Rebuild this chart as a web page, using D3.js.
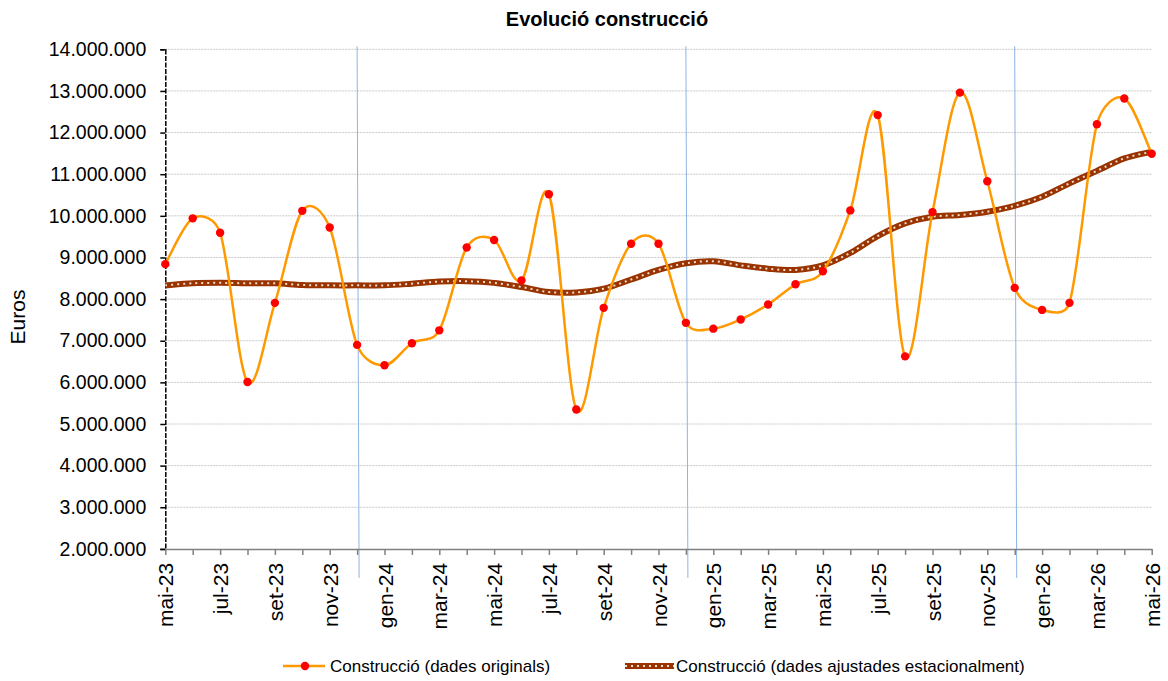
<!DOCTYPE html>
<html><head><meta charset="utf-8">
<script src="https://cdn.jsdelivr.net/npm/d3@7"></script>
<style>
html,body{margin:0;padding:0;background:#fff;}
text{font-family:"Liberation Sans",Arial,sans-serif;fill:#000;}
</style></head>
<body><svg id="chart" width="1168" height="681"></svg>
<script>
const months = ["mai-23","jun-23","jul-23","ago-23","set-23","oct-23","nov-23","des-23",
"gen-24","feb-24","mar-24","abr-24","mai-24","jun-24","jul-24","ago-24","set-24","oct-24","nov-24","des-24",
"gen-25","feb-25","mar-25","abr-25","mai-25","jun-25","jul-25","ago-25","set-25","oct-25","nov-25","des-25",
"gen-26","feb-26","mar-26","abr-26","mai-26"];
const original = [8840000,9940000,9595000,6010000,7910000,10120000,9720000,6900000,
6410000,6940000,7250000,9240000,9420000,8450000,10520000,5350000,7790000,9330000,9330000,7430000,
7290000,7510000,7870000,8355000,8670000,10130000,12420000,6625000,10090000,12960000,10830000,8270000,
7740000,7910000,12200000,12820000,11490000];
const adjusted = [8330000,8380000,8390000,8380000,8380000,8340000,8330000,8330000,
8330000,8370000,8420000,8430000,8390000,8290000,8170000,8160000,8250000,8470000,8700000,8860000,
8910000,8810000,8730000,8700000,8810000,9110000,9515000,9820000,9980000,10020000,10100000,10240000,
10460000,10780000,11080000,11380000,11540000];
const tickLabels = ["mai-23","jul-23","set-23","nov-23","gen-24","mar-24","mai-24","jul-24","set-24","nov-24",
"gen-25","mar-25","mai-25","jul-25","set-25","nov-25","gen-26","mar-26","mai-26"];
const yTicks = [2000000,3000000,4000000,5000000,6000000,7000000,8000000,9000000,10000000,11000000,12000000,13000000,14000000];
const yearMarks = ["des-23","des-24","des-25"];
const title = "Evolució construcció";
const yTitle = "Euros";
const seriesNames = ["Construcció (dades originals)","Construcció (dades ajustades estacionalment)"];

// Excel-style smoothed Bezier curve (control handles capped at half the segment)
function ExcelSmooth(context) { this._context = context; }
ExcelSmooth.prototype = {
  areaStart() {}, areaEnd() {},
  lineStart() { this._p = []; },
  point(px, py) { this._p.push([+px, +py]); },
  lineEnd() {
    const p = this._p, c = this._context, n = p.length;
    if (!n) return;
    const dist = (a, b) => Math.hypot(b[0] - a[0], b[1] - a[1]);
    c.moveTo(p[0][0], p[0][1]);
    for (let i = 0; i < n - 1; i++) {
      const P0 = p[Math.max(i - 1, 0)], P1 = p[i], P2 = p[i + 1], P3 = p[Math.min(i + 2, n - 1)];
      const d12 = dist(P1, P2), d02 = dist(P0, P2), d13 = dist(P1, P3);
      const f = 1 / 6;
      let f1 = f, f2 = f;
      if (d02 / 6 >= d12 / 2 && d02 > 0) f1 = d12 / d02 / 2;
      if (d13 / 6 >= d12 / 2 && d13 > 0) f2 = d12 / d13 / 2;
      const c1 = [P1[0] + (P2[0] - P0[0]) * f1, P1[1] + (P2[1] - P0[1]) * f1];
      const c2 = [P2[0] - (P3[0] - P1[0]) * f2, P2[1] - (P3[1] - P1[1]) * f2];
      c.bezierCurveTo(c1[0], c1[1], c2[0], c2[1], P2[0], P2[1]);
    }
  }
};
const excelCurve = ctx => new ExcelSmooth(ctx);

const svg = d3.select("#chart");
const L = 165.3, R = 1151.7, T = 49.3, B = 548.9;
const x = d3.scalePoint().domain(months).range([L, R]);
const y = d3.scaleLinear().domain([2000000, 14000000]).range([B, T]);
const fmt = v => d3.format(",")(v).replace(/,/g, ".");

// gridlines
svg.append("g").selectAll("line").data(yTicks.slice(1)).join("line")
  .attr("x1", L).attr("x2", R).attr("y1", d => y(d)).attr("y2", d => y(d))
  .attr("stroke", "#c8c8c8").attr("stroke-width", 1).attr("stroke-dasharray", "2,1");

// year separators
svg.append("g").selectAll("line").data(yearMarks).join("line")
  .attr("x1", d => x(d)).attr("x2", d => x(d) + 2).attr("y1", T - 3).attr("y2", B + 29)
  .attr("stroke", "#8eb4e3").attr("stroke-width", 1);

// y axis
const yAxis = svg.append("g").attr("transform", `translate(${L},0)`)
  .call(d3.axisLeft(y).tickValues(yTicks).tickFormat(fmt).tickSize(5).tickPadding(14));
yAxis.select(".domain").attr("stroke", "#000").attr("stroke-width", 1.5).attr("stroke-dasharray", "5,1.5");
yAxis.selectAll(".tick line").attr("stroke", "#000").attr("stroke-width", 1.5);
yAxis.selectAll("text").attr("font-size", "19.5px").style("font-family", '"Liberation Sans",Arial,sans-serif').attr("fill", "#000");

// x axis
const xAxis = svg.append("g").attr("transform", `translate(0,${B})`)
  .call(d3.axisBottom(x).tickSize(6).tickSizeOuter(0).tickFormat(d => tickLabels.includes(d) ? d : ""));
xAxis.select(".domain").attr("stroke", "#808080").attr("stroke-width", 1.5);
xAxis.selectAll(".tick line").attr("stroke", "#808080").attr("stroke-width", 1.5);
xAxis.selectAll("text")
  .attr("font-size", "21px").style("font-family", '"Liberation Sans",Arial,sans-serif').attr("fill", "#000")
  .attr("transform", "rotate(-90)").attr("text-anchor", "end")
  .attr("x", -14).attr("y", 0).attr("dy", "0.36em");

// lines
const lineA = d3.line().x((d, i) => x(months[i])).y(d => y(d)).curve(excelCurve);
svg.append("path").datum(adjusted).attr("d", lineA).attr("fill", "none")
  .attr("stroke", "#993300").attr("stroke-width", 6);
svg.append("path").datum(adjusted).attr("d", lineA).attr("fill", "none")
  .attr("stroke", "#f2dccb").attr("stroke-width", 2).attr("stroke-dasharray", "2,4");

svg.append("path").datum(original).attr("d", lineA).attr("fill", "none")
  .attr("stroke", "#ff9900").attr("stroke-width", 2.5);
svg.append("g").selectAll("circle").data(original).join("circle")
  .attr("cx", (d, i) => x(months[i])).attr("cy", d => y(d)).attr("r", 4.2).attr("fill", "#ff0000");

// title
svg.append("text").attr("x", 607).attr("y", 26).attr("text-anchor", "middle")
  .attr("font-size", "20px").attr("font-weight", "bold").text(title);
// y title
svg.append("text").attr("transform", "translate(25,317) rotate(-90)").attr("text-anchor", "middle")
  .attr("font-size", "21px").text(yTitle);

// legend
const lg1 = svg.append("g");
lg1.append("line").attr("x1", 283).attr("x2", 325).attr("y1", 666).attr("y2", 666).attr("stroke", "#ff9900").attr("stroke-width", 2.5);
lg1.append("circle").attr("cx", 305).attr("cy", 666).attr("r", 4.2).attr("fill", "#ff0000");
lg1.append("text").attr("x", 330).attr("y", 672).attr("font-size", "17px").text(seriesNames[0]);
const lg2 = svg.append("g");
lg2.append("line").attr("x1", 625).attr("x2", 674).attr("y1", 666).attr("y2", 666).attr("stroke", "#993300").attr("stroke-width", 6);
lg2.append("line").attr("x1", 625).attr("x2", 674).attr("y1", 666).attr("y2", 666).attr("stroke", "#f2dccb").attr("stroke-width", 2).attr("stroke-dasharray", "2,4");
lg2.append("text").attr("x", 676).attr("y", 672).attr("font-size", "17px").text(seriesNames[1]);
</script></body></html>
